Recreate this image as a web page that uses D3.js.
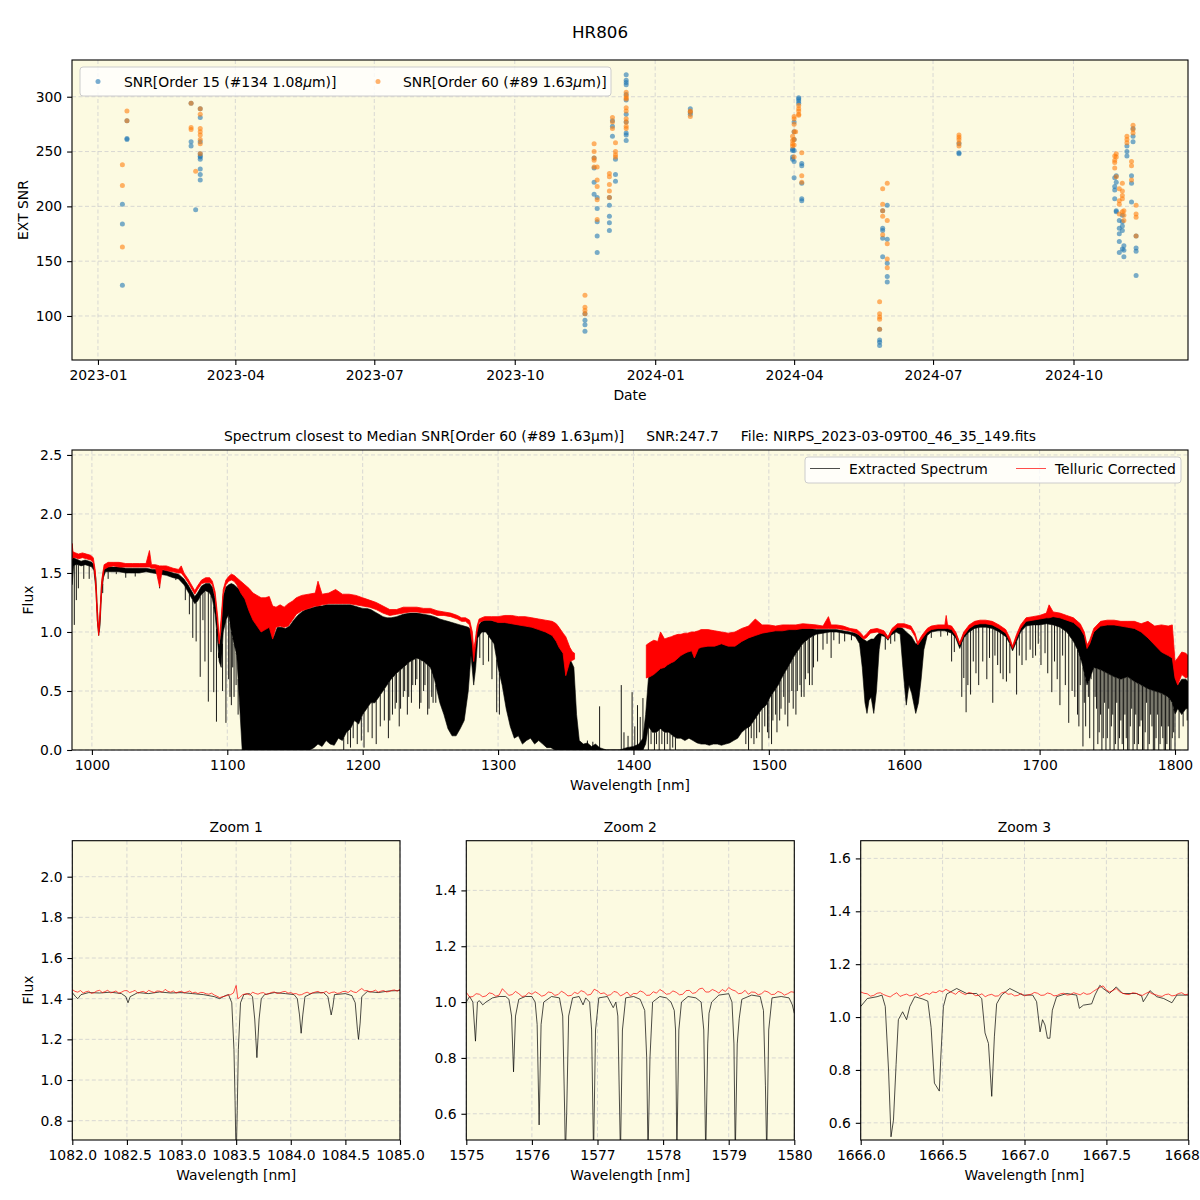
<!DOCTYPE html>
<html><head><meta charset="utf-8">
<script src="https://cdn.jsdelivr.net/npm/d3@7"></script>
<style>body{margin:0;background:#fff}</style>
</head><body><svg id="chart" width="1200" height="1200" xmlns="http://www.w3.org/2000/svg"></svg>
<script>
// ---------------- DATA ----------------
const chartTitle = "HR806";
const dateTicks = ["2023-01-01","2023-04-01","2023-07-01","2023-10-01","2024-01-01","2024-04-01","2024-07-01","2024-10-01"];
const snrTicks = [100,150,200,250,300];
// SNR observations grouped by night: [date, [snr values]]
const order15Snr = [
 ["2023-01-17",[202,184,128]],["2023-01-20",[278,262,261]],
 ["2023-03-03",[294,259,255]],["2023-03-06",[197]],["2023-03-09",[289,281,259,248,246,245,243,234,229,224]],
 ["2023-11-16",[102,96,92,86]],["2023-11-22",[244,235,222,211]],["2023-11-24",[208,198,186,173,158]],
 ["2023-12-02",[208,201,191,185,178]],["2023-12-04",[278,273,264]],["2023-12-06",[243,229,223]],
 ["2023-12-13",[320,315,313,311,302,297,284,277,267,265,260]],["2024-01-24",[289,286,284]],
 ["2024-03-31",[252,251,245,243]],["2024-04-01",[277,268,261,251,241,226]],["2024-04-04",[299,298,296,294]],
 ["2024-04-06",[239,237,221,207,205]],["2024-05-27",[88,78,76,73]],["2024-05-29",[196,180,178,171,154]],
 ["2024-06-01",[201,170,148,136,131]],["2024-07-18",[257,249,248]],["2024-10-28",[226,218,215,207]],
 ["2024-10-29",[228,222,196,195]],["2024-10-31",[187,180,175,168,158]],["2024-11-02",[192,186,182,178,161]],
 ["2024-11-03",[164,160,154]],["2024-11-05",[255,250,246]],["2024-11-08",[228,221,204]],
 ["2024-11-09",[271,264,259]],["2024-11-11",[173,162,159,137]]
];
const order60Snr = [
 ["2023-01-17",[238,219,163]],["2023-01-20",[287,278]],
 ["2023-03-03",[294,272,270]],["2023-03-06",[232]],["2023-03-09",[289,284,271,268,265,261,257,248]],
 ["2023-11-16",[119,108,105,102]],["2023-11-22",[257,250,244,242,236]],["2023-11-24",[236,224,218,206,188]],
 ["2023-12-02",[230,227,220,214,208]],["2023-12-04",[281,277,271]],["2023-12-06",[258,250,247,245]],
 ["2023-12-13",[304,301,299,298,290,287,280,277,273,271]],["2024-01-24",[287,286,282]],
 ["2024-03-31",[264,260,257,255]],["2024-04-01",[282,280,275,268,261,256,245]],["2024-04-02",[268]],
 ["2024-04-04",[292,289,287,284,283]],["2024-04-06",[249,228,222]],["2024-05-27",[113,102,99,97,88]],
 ["2024-05-29",[216,202,196,191,174]],["2024-06-01",[221,187,166,152,144]],["2024-07-18",[265,263,261,258,255]],
 ["2024-10-28",[246,242,240,235]],["2024-10-29",[248,245,227]],["2024-10-31",[216,205,202,193]],
 ["2024-11-02",[221,214,210,207,195]],["2024-11-03",[196,192,187]],["2024-11-05",[264,261,258]],
 ["2024-11-08",[241,237,224]],["2024-11-09",[274,270,267]],["2024-11-11",[201,193,190,173]]
];
const seriesLabels = ["SNR[Order 15 (#134 1.08", "SNR[Order 60 (#89 1.63"];
const spectrumTitle = "Spectrum closest to Median SNR[Order 60 (#89 1.63\u03bcm)]     SNR:247.7     File: NIRPS_2023-03-09T00_46_35_149.fits";
const wavelengthTicks = [1000,1100,1200,1300,1400,1500,1600,1700,1800];
const fluxTicks = [0,0.5,1.0,1.5,2.0,2.5];
// Extracted spectrum: [wavelength nm, upper flux, lower flux of the dense line forest]
const extractedBand = [
 [985.4,1.66,1.40],[986.5,1.63,1.56],[988,1.62,1.57],[990,1.61,1.57],[992,1.60,1.56],[995,1.61,1.57],[998,1.60,1.56],
 [1000,1.59,1.55],[1001.5,1.57,1.52],[1003,1.45,1.35],[1004,1.20,1.10],[1005,1.00,0.97],[1006,1.15,1.05],[1007,1.40,1.30],
 [1008.5,1.52,1.46],[1010,1.55,1.51],[1015,1.55,1.51],[1020,1.55,1.51],[1025,1.54,1.50],[1030,1.54,1.50],[1035,1.54,1.50],
 [1040,1.54,1.51],[1045,1.53,1.50],[1050,1.53,1.49],[1055,1.52,1.48],[1060,1.50,1.46],[1064,1.49,1.45],[1068,1.45,1.40],
 [1071,1.40,1.34],[1074,1.34,1.28],[1076,1.30,1.24],[1078,1.33,1.26],[1081,1.39,1.32],[1084,1.41,1.35],[1087,1.41,1.33],
 [1089,1.38,1.28],[1091,1.28,1.15],[1093,1.05,0.90],[1094,0.88,0.75],[1095.5,1.00,0.70],[1097,1.30,1.00],[1099,1.38,1.10],
 [1101,1.40,1.15],[1103,1.41,1.00],[1105,1.40,0.90],[1107,1.38,0.80],[1109,1.36,0.40],[1111,1.34,0.00],[1114,1.30,0.00],
 [1117,1.22,0.00],[1120,1.12,0.00],[1123,1.06,0.00],[1126,1.02,0.00],[1129,1.04,0.00],[1132,1.05,0.00],[1134,0.95,0.00],
 [1137,1.04,0.00],[1140,1.04,0.00],[1143,1.03,0.00],[1146,1.05,0.00],[1149,1.10,0.00],[1152,1.14,0.00],[1155,1.17,0.00],
 [1158,1.19,0.00],[1161,1.20,0.00],[1164,1.21,0.02],[1167,1.22,0.05],[1170,1.22,0.03],[1173,1.23,0.08],[1176,1.23,0.05],
 [1179,1.23,0.04],[1182,1.23,0.10],[1185,1.23,0.08],[1188,1.23,0.15],[1191,1.23,0.18],[1194,1.22,0.25],[1197,1.21,0.22],
 [1200,1.20,0.30],[1203,1.20,0.35],[1206,1.19,0.40],[1209,1.17,0.40],[1212,1.15,0.45],[1215,1.13,0.50],[1218,1.12,0.55],
 [1221,1.12,0.60],[1225,1.13,0.65],[1230,1.15,0.70],[1235,1.16,0.75],[1240,1.16,0.78],[1245,1.15,0.75],[1250,1.14,0.70],
 [1253,1.13,0.60],[1255,1.12,0.50],[1257,1.11,0.40],[1260,1.10,0.30],[1263,1.09,0.18],[1266,1.08,0.12],[1269,1.07,0.12],
 [1272,1.06,0.18],[1275,1.05,0.25],[1278,1.04,0.50],[1280,1.02,0.80],[1282,0.80,0.55],[1283.5,0.90,0.70],[1285,1.05,0.95],
 [1288,1.09,1.00],[1291,1.10,1.00],[1294,1.10,0.95],[1297,1.09,0.90],[1300,1.09,0.70],[1303,1.09,0.55],[1306,1.08,0.35],
 [1309,1.08,0.20],[1312,1.07,0.10],[1315,1.07,0.12],[1318,1.06,0.05],[1321,1.06,0.08],[1324,1.05,0.10],[1327,1.05,0.05],
 [1330,1.04,0.08],[1333,1.03,0.05],[1336,1.02,0.02],[1339,1.00,0.02],[1342,0.97,0.00],[1345,0.90,0.00],[1348,0.85,0.00],
 [1351,0.80,0.00],[1354,0.75,0.00],[1356,0.70,0.00],[1358,0.30,0.00],[1360,0.08,0.00],[1363,0.05,0.00],[1366,0.06,0.00],
 [1369,0.03,0.00],[1372,0.05,0.00],[1375,0.02,0.00],[1380,0.00,0.00],[1390,0.00,0.00],[1395,0.02,0.00],[1400,0.03,0.00],
 [1404,0.05,0.00],[1407,0.10,0.00],[1409,0.30,0.05],[1411,0.60,0.20],[1414,0.75,0.15],[1417,0.80,0.15],[1420,0.83,0.18],
 [1423,0.85,0.15],[1426,0.88,0.15],[1429,0.90,0.12],[1432,0.92,0.10],[1435,0.93,0.10],[1438,0.94,0.08],[1441,0.95,0.10],
 [1444,0.96,0.08],[1447,0.97,0.06],[1450,0.98,0.05],[1453,0.98,0.05],[1456,0.98,0.04],[1459,0.98,0.05],[1462,0.97,0.05],
 [1465,0.96,0.04],[1468,0.95,0.05],[1471,0.95,0.06],[1474,0.96,0.08],[1477,0.97,0.10],[1480,0.99,0.15],[1483,1.00,0.18],
 [1486,1.01,0.20],[1489,1.02,0.25],[1492,1.03,0.30],[1495,1.03,0.35],[1498,1.03,0.38],[1501,1.03,0.45],[1504,1.03,0.50],
 [1507,1.03,0.55],[1510,1.03,0.62],[1513,1.03,0.68],[1516,1.03,0.74],[1519,1.03,0.80],[1522,1.03,0.85],[1525,1.03,0.90],
 [1530,1.03,0.95],[1535,1.02,0.98],[1540,1.02,0.99],[1545,1.02,1.00],[1550,1.02,1.00],[1555,1.01,0.99],[1560,1.00,0.98],
 [1564,0.99,0.96],[1567,0.97,0.90],[1569,0.95,0.70],[1571,0.93,0.40],[1572.5,0.92,0.31],[1574,0.93,0.42],[1575.5,0.94,0.45],
 [1577.5,0.94,0.31],[1579.5,0.97,0.50],[1581.5,0.99,0.85],[1583,1.00,0.97],[1586,0.99,0.96],[1588,0.95,0.93],[1590,1.00,0.97],
 [1594,1.04,1.00],[1597,1.04,0.98],[1599,1.03,0.70],[1601.5,1.00,0.38],[1603.5,0.98,0.55],[1605.5,0.96,0.48],[1608.5,0.90,0.31],
 [1610.5,0.90,0.40],[1612.5,0.95,0.60],[1614.5,0.98,0.85],[1617,1.00,0.97],[1620,1.03,1.00],[1625,1.04,1.01],[1630,1.04,1.01],
 [1635,1.03,0.99],[1638,0.99,0.95],[1641,0.90,0.86],[1644,0.99,0.95],[1648,1.04,1.00],[1652,1.07,1.03],[1656,1.08,1.04],
 [1660,1.08,1.04],[1665,1.07,1.03],[1670,1.04,1.00],[1675,1.00,0.96],[1678,0.93,0.90],[1680,0.87,0.84],[1683,0.96,0.92],
 [1686,1.04,1.00],[1690,1.10,1.05],[1695,1.11,1.06],[1700,1.12,1.06],[1705,1.14,1.07],[1710,1.14,1.06],[1715,1.13,1.04],
 [1720,1.11,1.00],[1725,1.09,0.92],[1728,1.07,0.85],[1731,1.03,0.75],[1733,0.97,0.65],[1735,0.87,0.55],[1737,0.90,0.60],
 [1740,1.00,0.70],[1745,1.06,0.68],[1750,1.07,0.65],[1755,1.07,0.62],[1760,1.06,0.60],[1765,1.05,0.62],[1770,1.04,0.58],
 [1775,1.02,0.55],[1780,1.00,0.52],[1785,0.96,0.50],[1790,0.94,0.48],[1795,0.90,0.45],[1798,0.85,0.40],[1800,0.62,0.30],
 [1802,0.55,0.35],[1805,0.60,0.30],[1808,0.60,0.35],[1809.6,0.58,0.35]
];
// Individual deep telluric lines / spikes of the extracted spectrum: [wavelength nm, flux reached]
const extractedLines = [
 [987,1.06],[988.5,1.27],[990,1.37],[994,1.45],[998,1.45],[1008,1.33],[1012,1.45],[1018,1.49],[1025,1.46],[1032,1.47],
 [1050,1.37],[1062,1.44],[1069,1.27],[1072,1.15],[1074.5,0.95],[1077,0.92],[1080,0.62],[1082,1.10],[1083.5,0.75],[1086,0.41],
 [1088,0.83],[1090,0.49],[1092,0.24],[1093.5,0.78],[1096.5,0.50],[1099,0.23],[1101,0.60],[1102,0.45],[1103,0.38],[1104,0.70],
 [1105,0.45],[1106.5,0.55],[1108,0.30],
 [1186,0.00],[1189,0.05],[1191,0.02],[1193,0.10],[1196,0.05],[1199,0.08],[1201,0.02],[1204,0.15],[1207,0.10],[1210,0.05],
 [1213,0.20],[1216,0.25],[1219,0.10],[1220,0.25],[1222,0.30],[1224,0.35],[1225,0.40],[1227,0.20],[1228,0.35],[1230,0.45],
 [1231,0.50],[1233,0.30],[1234,0.45],[1236,0.40],[1237,0.55],[1239,0.55],[1240,0.60],[1242,0.35],[1243,0.40],[1245,0.50],
 [1246,0.55],[1248,0.30],[1249,0.35],[1251,0.45],[1252,0.40],[1254,0.40],
 [1286.5,0.78],[1289,0.72],[1293,0.75],[1295.5,0.60],[1299,0.32],[1301,0.30],
 [1366,0.08],[1370,0.07],[1375,0.37],[1391,0.55],[1393,0.15],[1396,0.12],[1399,0.49],[1401,0.20],[1403,0.38],[1405,0.28],[1407,0.44],
 [1411,0.00],[1413,0.05],[1415.5,0.00],[1417,0.05],[1419,0.00],[1421,0.05],[1423,0.00],[1425,0.05],[1427,0.00],[1429,0.02],
 [1431,0.00],[1483,0.05],[1485,0.00],[1487,0.10],[1489,0.05],[1491,0.10],[1493,0.15],[1495,0.00],[1497,0.20],[1499,0.15],
 [1500,0.10],[1502,0.05],[1503,0.25],[1505,0.30],[1506,0.15],[1508,0.25],[1509,0.35],[1511,0.45],[1512,0.30],[1514,0.20],
 [1515,0.40],[1517,0.50],[1518,0.35],[1520,0.30],[1521,0.50],[1523,0.55],[1524,0.45],[1526,0.45],[1527,0.60],[1529,0.65],
 [1530,0.55],[1532,0.55],[1533,0.70],[1536,0.75],[1540,0.85],[1543,0.90],[1546,0.78],
 [1548,0.93],[1552,0.90],[1556,0.92],[1561,0.93],[1586,0.85],[1590,0.90],[1593,0.92],[1620,0.95],[1627,0.96],[1632,0.97],
 [1635,0.75],[1637,0.83],
 [1642.5,0.45],[1644,0.61],[1645.7,0.32],[1647,0.55],[1649,0.47],[1651,0.75],[1653,0.65],[1655,0.55],[1658,0.75],[1661,0.60],
 [1663,0.78],[1665.4,0.40],[1667,0.80],[1669,0.72],[1671,0.65],[1673,0.60],[1675.5,0.58],[1678,0.65],[1683,0.47],[1685,0.80],
 [1687,0.72],[1690,0.76],[1693,0.85],[1695,0.78],[1697,0.80],[1699,0.90],
 [1701,0.72],[1704,0.82],[1706,0.65],[1709,0.49],[1711,0.75],[1713,0.60],[1715,0.38],[1717,0.80],[1719,0.55],[1721.5,0.23],
 [1724,0.50],[1726,0.45],[1728,0.30],[1729,0.20],[1730,0.55],[1732,0.03],[1733,0.40],[1734,0.20],[1736,0.45],[1737,0.10],
 [1738,0.60],[1740,0.00],[1741,0.45],[1742,0.35],[1743,0.05],[1744,0.15],[1745,0.30],[1746,0.00],[1747,0.10],[1748,0.40],
 [1749,0.00],[1750,0.10],[1751,0.35],[1752,0.00],[1753,0.20],[1754,0.30],[1755,0.00],[1756,0.05],[1757,0.40],[1758,0.00],
 [1759,0.10],[1760,0.25],[1761,0.05],[1762,0.00],[1763,0.30],[1764,0.10],[1765,0.00],[1766,0.00],[1767,0.20],[1768,0.35],
 [1769,0.00],[1770,0.05],[1771,0.30],[1772,0.00],[1773,0.05],[1774,0.20],[1775,0.25],[1776,0.00],[1777,0.00],[1778,0.15],
 [1779,0.40],[1780,0.00],[1781,0.05],[1782,0.30],[1783,0.20],[1784,0.00],[1785,0.00],[1786,0.10],[1787,0.30],[1788,0.00],
 [1789,0.05],[1790,0.20],[1791,0.10],[1792,0.00],[1793,0.00],[1794,0.05],[1795,0.20],[1796,0.00],[1797,0.00],[1798,0.10],
 [1799,0.15],[1800,0.00],[1803,0.10],[1806,0.20],[1809,0.25]
];
// Telluric corrected spectrum: [wavelength nm, upper flux, lower flux]; null marks the masked gap
const correctedBand = [
 [985.4,1.75,1.62],[986,1.68,1.63],[988,1.67,1.63],[990,1.66,1.62],[993,1.67,1.63],[996,1.66,1.62],[999,1.65,1.61],[1001,1.63,1.59],
 [1002.5,1.52,1.45],[1004,1.20,1.10],[1005,1.00,0.97],[1006,1.18,1.10],[1007.4,1.45,1.38],[1009,1.57,1.53],[1012,1.59,1.55],
 [1016,1.59,1.56],[1020,1.59,1.55],[1025,1.58,1.55],[1030,1.58,1.55],[1035,1.58,1.55],[1040,1.58,1.55],[1042.5,1.69,1.55],
 [1044,1.57,1.54],[1047,1.57,1.54],[1050,1.56,1.38],[1052,1.56,1.53],[1055,1.56,1.52],[1060,1.54,1.51],[1064,1.53,1.50],
 [1066,1.56,1.50],[1068,1.50,1.47],[1071,1.45,1.42],[1074,1.39,1.36],[1076,1.35,1.32],[1078,1.39,1.36],[1081,1.44,1.41],
 [1084,1.46,1.42],[1087,1.46,1.42],[1089,1.43,1.40],[1091,1.34,1.30],[1093,1.12,1.05],[1094,0.93,0.90],[1095.5,1.12,1.05],
 [1097,1.36,1.32],[1099,1.44,1.40],[1101,1.47,1.43],[1103,1.49,1.44],[1105,1.48,1.43],[1107,1.46,1.40],[1110,1.43,1.33],
 [1113,1.40,1.28],[1116,1.37,1.18],[1119,1.33,1.10],[1122,1.31,1.05],[1125,1.29,1.00],[1128,1.29,1.02],[1131,1.30,1.04],
 [1133.5,1.22,0.94],[1136,1.21,1.04],[1139,1.23,1.05],[1142,1.21,1.04],[1145,1.24,1.05],[1148,1.26,1.10],[1151,1.29,1.15],
 [1155,1.31,1.18],[1160,1.32,1.20],[1165,1.33,1.22],[1167,1.43,1.22],[1170,1.32,1.23],[1175,1.33,1.24],[1180,1.36,1.24],
 [1185,1.32,1.24],[1190,1.32,1.24],[1195,1.31,1.23],[1200,1.29,1.22],[1205,1.27,1.21],[1210,1.25,1.19],[1215,1.22,1.16],
 [1220,1.19,1.14],[1225,1.19,1.15],[1230,1.21,1.16],[1235,1.21,1.17],[1240,1.21,1.17],[1245,1.20,1.16],[1250,1.20,1.16],
 [1255,1.18,1.14],[1260,1.17,1.14],[1265,1.16,1.13],[1270,1.14,1.11],[1273,1.12,1.09],[1276,1.12,1.09],[1279,1.10,1.06],
 [1281,1.00,0.90],[1282,0.85,0.75],[1283,0.92,0.85],[1284.5,1.05,1.00],[1286,1.11,1.08],[1290,1.13,1.10],[1295,1.13,1.10],
 [1300,1.13,1.08],[1305,1.14,1.08],[1310,1.14,1.07],[1315,1.13,1.06],[1320,1.13,1.05],[1325,1.12,1.04],[1330,1.11,1.02],
 [1335,1.10,1.00],[1340,1.09,0.97],[1343,1.07,0.92],[1345,1.04,0.87],[1348,0.99,0.82],[1350,0.96,0.63],[1353,0.87,0.75],
 [1355,0.83,0.76],[1356.5,0.82,0.77],[1380,null,null],
 [1409.5,0.89,0.61],[1412,0.91,0.62],[1415,0.93,0.64],[1418,0.92,0.67],[1420,1.00,0.69],[1423,0.94,0.70],[1425,0.95,0.72],
 [1428,0.96,0.74],[1430,0.97,0.75],[1433,0.98,0.78],[1435,0.98,0.80],[1438,0.99,0.82],[1440,0.99,0.83],[1443,1.00,0.84],
 [1445,1.00,0.78],[1448,1.01,0.86],[1450,1.02,0.87],[1455,1.02,0.88],[1460,1.01,0.88],[1465,1.00,0.90],[1470,0.99,0.88],
 [1475,1.00,0.88],[1480,1.03,0.92],[1485,1.05,0.95],[1490,1.11,0.97],[1495,1.06,0.99],[1500,1.06,1.00],[1505,1.05,1.01],
 [1510,1.06,1.01],[1515,1.06,1.02],[1520,1.06,1.02],[1525,1.07,1.03],[1530,1.065,1.03],[1535,1.06,1.03],[1540,1.05,1.03],
 [1544,1.13,1.03],[1546,1.06,1.03],[1550,1.06,1.03],[1555,1.05,1.02],[1560,1.03,1.01],[1565,1.02,0.99],[1568,0.99,0.96],
 [1570,0.96,0.94],[1572,0.98,0.95],[1575,1.02,0.99],[1580,1.03,1.00],[1585,1.01,0.98],[1588,0.96,0.94],[1591,1.03,1.00],
 [1595,1.07,1.04],[1600,1.07,1.04],[1605,1.05,1.02],[1608,0.99,0.96],[1610,0.91,0.89],[1613,0.97,0.94],[1617,1.03,1.00],
 [1620,1.05,1.02],[1625,1.06,1.03],[1630,1.06,1.03],[1631,1.14,1.03],[1632,1.06,1.03],[1635,1.05,1.02],[1638,1.00,0.97],
 [1641,0.91,0.89],[1644,1.00,0.97],[1648,1.06,1.03],[1652,1.09,1.06],[1656,1.10,1.07],[1660,1.10,1.07],[1665,1.09,1.06],
 [1670,1.06,1.03],[1675,1.02,0.99],[1678,0.95,0.92],[1680,0.88,0.86],[1683,0.98,0.95],[1686,1.06,1.03],[1690,1.12,1.09],
 [1695,1.13,1.10],[1700,1.14,1.11],[1705,1.16,1.12],[1707,1.23,1.12],[1710,1.17,1.13],[1715,1.16,1.12],[1720,1.14,1.10],
 [1725,1.12,1.08],[1730,1.07,1.03],[1733,1.00,0.97],[1735,0.89,0.86],[1737,0.93,0.90],[1740,1.03,1.00],[1745,1.09,1.05],
 [1750,1.10,1.06],[1755,1.10,1.06],[1760,1.09,1.05],[1765,1.09,1.04],[1770,1.09,1.03],[1775,1.07,1.00],[1780,1.09,0.95],
 [1785,1.05,0.89],[1790,1.06,0.83],[1795,1.05,0.80],[1798,1.06,0.78],[1800,0.75,0.61],[1802,0.78,0.55],[1805,0.83,0.64],
 [1808,0.82,0.61],[1809.6,0.80,0.62]
];
// Zoom panels: [wavelength nm, flux]
const zoom1Extracted = [
 [1082.00,1.430],[1082.03,1.410],[1082.05,1.400],[1082.08,1.420],[1082.15,1.430],[1082.25,1.428],[1082.35,1.432],[1082.45,1.425],
 [1082.49,1.410],[1082.51,1.380],[1082.53,1.410],[1082.60,1.430],[1082.70,1.425],[1082.80,1.433],[1082.90,1.428],[1083.00,1.430],
 [1083.10,1.425],[1083.20,1.420],[1083.30,1.410],[1083.35,1.400],[1083.40,1.415],[1083.43,1.420],[1083.46,1.380],[1083.48,1.150],
 [1083.49,0.900],[1083.50,0.600],[1083.51,0.850],[1083.52,1.150],[1083.54,1.380],[1083.57,1.420],[1083.62,1.425],[1083.65,1.410],
 [1083.67,1.300],[1083.69,1.110],[1083.71,1.300],[1083.73,1.400],[1083.76,1.420],[1083.85,1.430],[1083.95,1.425],[1084.03,1.420],
 [1084.06,1.400],[1084.08,1.320],[1084.095,1.230],[1084.11,1.320],[1084.13,1.410],[1084.20,1.428],[1084.30,1.430],[1084.34,1.410],
 [1084.36,1.350],[1084.37,1.320],[1084.385,1.360],[1084.40,1.420],[1084.50,1.425],[1084.56,1.415],[1084.59,1.380],[1084.61,1.250],
 [1084.62,1.200],[1084.635,1.280],[1084.65,1.410],[1084.70,1.435],[1084.80,1.430],[1084.90,1.438],[1085.00,1.440]
];
const zoom1Corrected = [
 [1082.00,1.445],[1082.025,1.436],[1082.05,1.432],[1082.075,1.440],[1082.10,1.428],[1082.125,1.434],[1082.15,1.437],[1082.175,1.426],
 [1082.20,1.430],[1082.225,1.438],[1082.25,1.441],[1082.275,1.430],[1082.30,1.435],[1082.325,1.442],[1082.35,1.428],[1082.375,1.433],
 [1082.40,1.438],[1082.425,1.427],[1082.45,1.432],[1082.475,1.439],[1082.50,1.440],[1082.525,1.430],[1082.55,1.435],[1082.575,1.441],
 [1082.60,1.427],[1082.625,1.433],[1082.65,1.436],[1082.675,1.429],[1082.70,1.441],[1082.725,1.435],[1082.75,1.430],[1082.775,1.438],
 [1082.80,1.437],[1082.825,1.432],[1082.85,1.446],[1082.875,1.436],[1082.90,1.432],[1082.925,1.438],[1082.95,1.428],[1082.975,1.434],
 [1083.00,1.436],[1083.025,1.429],[1083.05,1.433],[1083.075,1.438],[1083.10,1.428],[1083.125,1.432],[1083.15,1.425],[1083.175,1.431],
 [1083.20,1.430],[1083.225,1.424],[1083.25,1.422],[1083.275,1.427],[1083.30,1.418],[1083.325,1.412],[1083.35,1.405],[1083.375,1.410],
 [1083.40,1.412],[1083.425,1.418],[1083.45,1.420],[1083.475,1.428],[1083.50,1.465],[1083.515,1.400],[1083.53,1.405],[1083.56,1.420],
 [1083.60,1.425],[1083.625,1.418],[1083.65,1.432],[1083.675,1.426],[1083.70,1.422],[1083.725,1.428],[1083.75,1.430],[1083.775,1.421],
 [1083.80,1.425],[1083.825,1.431],[1083.85,1.433],[1083.875,1.426],[1083.90,1.428],[1083.925,1.434],[1083.95,1.436],[1083.975,1.427],
 [1084.00,1.430],[1084.025,1.424],[1084.05,1.425],[1084.075,1.418],[1084.10,1.420],[1084.125,1.427],[1084.15,1.432],[1084.175,1.425],
 [1084.20,1.428],[1084.225,1.433],[1084.25,1.436],[1084.275,1.428],[1084.30,1.430],[1084.325,1.436],[1084.35,1.425],[1084.375,1.431],
 [1084.40,1.433],[1084.425,1.426],[1084.45,1.428],[1084.475,1.435],[1084.50,1.436],[1084.525,1.430],[1084.55,1.440],[1084.575,1.433],
 [1084.60,1.430],[1084.625,1.441],[1084.65,1.450],[1084.675,1.439],[1084.70,1.440],[1084.725,1.433],[1084.75,1.436],[1084.775,1.442],
 [1084.80,1.432],[1084.825,1.437],[1084.85,1.440],[1084.875,1.433],[1084.90,1.435],[1084.925,1.441],[1084.95,1.443],[1084.975,1.437],
 [1085.00,1.447]
];
const zoom2Extracted = [
 [1575.00,1.000],[1575.05,1.020],[1575.10,1.000],[1575.14,0.860],[1575.17,1.000],[1575.20,1.005],[1575.25,0.990],[1575.30,1.000],
 [1575.40,1.015],[1575.50,1.020],[1575.60,1.020],[1575.65,1.010],[1575.69,0.950],[1575.72,0.750],[1575.75,0.950],[1575.80,1.010],
 [1575.90,1.020],[1576.00,1.020],[1576.05,1.000],[1576.08,0.920],[1576.11,0.560],[1576.14,0.920],[1576.18,1.000],[1576.30,1.020],
 [1576.42,1.015],[1576.47,0.950],[1576.50,0.600],[1576.51,0.450],[1576.53,0.600],[1576.56,0.950],[1576.62,1.015],[1576.72,1.020],
 [1576.78,0.990],[1576.82,1.015],[1576.88,1.000],[1576.91,0.900],[1576.94,0.450],[1576.97,0.900],[1577.02,1.015],[1577.15,1.020],
 [1577.24,0.980],[1577.28,1.000],[1577.31,0.950],[1577.35,0.450],[1577.38,0.900],[1577.43,1.015],[1577.55,1.020],[1577.65,1.010],
 [1577.72,0.970],[1577.75,0.800],[1577.77,0.450],[1577.80,0.800],[1577.84,1.000],[1577.95,1.020],[1578.05,1.015],[1578.12,1.000],
 [1578.17,0.970],[1578.19,0.900],[1578.21,0.450],[1578.24,0.900],[1578.28,1.000],[1578.38,1.020],[1578.50,1.015],[1578.58,1.000],
 [1578.62,0.900],[1578.65,0.450],[1578.68,0.850],[1578.70,0.960],[1578.74,1.000],[1578.85,1.025],[1579.00,1.030],[1579.05,1.000],
 [1579.08,0.850],[1579.10,0.450],[1579.13,0.850],[1579.16,0.940],[1579.20,1.010],[1579.35,1.025],[1579.48,1.020],[1579.53,0.970],
 [1579.56,0.700],[1579.58,0.450],[1579.61,0.900],[1579.66,1.015],[1579.80,1.020],[1579.92,1.015],[1579.97,0.990],[1580.00,0.960]
];
const zoom2Corrected = [
 [1575.00,1.035],[1575.05,1.018],[1575.10,1.020],[1575.15,1.030],[1575.20,1.028],[1575.25,1.019],[1575.30,1.022],[1575.35,1.033],
 [1575.40,1.030],[1575.45,1.021],[1575.50,1.025],[1575.55,1.048],[1575.60,1.035],[1575.65,1.024],[1575.70,1.027],[1575.75,1.038],
 [1575.80,1.030],[1575.85,1.020],[1575.90,1.022],[1575.95,1.034],[1576.00,1.028],[1576.05,1.037],[1576.10,1.030],[1576.15,1.021],
 [1576.20,1.025],[1576.25,1.036],[1576.30,1.034],[1576.35,1.024],[1576.40,1.027],[1576.45,1.039],[1576.50,1.032],[1576.55,1.022],
 [1576.60,1.024],[1576.65,1.035],[1576.70,1.030],[1576.75,1.041],[1576.80,1.036],[1576.85,1.025],[1576.90,1.028],[1576.95,1.046],
 [1577.00,1.040],[1577.05,1.030],[1577.10,1.033],[1577.15,1.024],[1577.20,1.026],[1577.25,1.038],[1577.30,1.035],[1577.35,1.022],
 [1577.40,1.028],[1577.45,1.036],[1577.50,1.022],[1577.55,1.031],[1577.60,1.030],[1577.65,1.040],[1577.70,1.035],[1577.75,1.024],
 [1577.80,1.025],[1577.85,1.037],[1577.90,1.032],[1577.95,1.045],[1578.00,1.038],[1578.05,1.028],[1578.10,1.030],[1578.15,1.040],
 [1578.20,1.035],[1578.25,1.026],[1578.30,1.028],[1578.35,1.041],[1578.40,1.042],[1578.45,1.031],[1578.50,1.034],[1578.55,1.047],
 [1578.60,1.050],[1578.65,1.036],[1578.70,1.036],[1578.75,1.045],[1578.80,1.040],[1578.85,1.032],[1578.90,1.045],[1578.95,1.038],
 [1579.00,1.052],[1579.05,1.044],[1579.10,1.040],[1579.15,1.030],[1579.20,1.032],[1579.25,1.042],[1579.30,1.028],[1579.35,1.036],
 [1579.40,1.035],[1579.45,1.026],[1579.50,1.030],[1579.55,1.040],[1579.60,1.036],[1579.65,1.027],[1579.70,1.028],[1579.75,1.038],
 [1579.80,1.034],[1579.85,1.025],[1579.90,1.030],[1579.95,1.037],[1580.00,1.035]
];
const zoom3Extracted = [
 [1666.00,1.040],[1666.04,1.070],[1666.10,1.077],[1666.13,1.083],[1666.15,1.040],[1666.17,0.800],[1666.185,0.547],[1666.20,0.610],
 [1666.216,0.820],[1666.23,0.990],[1666.256,1.020],[1666.28,0.990],[1666.30,1.040],[1666.33,1.077],[1666.38,1.068],[1666.41,1.060],
 [1666.43,0.960],[1666.45,0.750],[1666.46,0.740],[1666.48,0.720],[1666.49,0.860],[1666.505,1.040],[1666.525,1.087],[1666.586,1.108],
 [1666.647,1.089],[1666.708,1.089],[1666.739,1.070],[1666.759,0.940],[1666.78,0.900],[1666.80,0.700],[1666.816,0.925],[1666.83,1.050],
 [1666.86,1.083],[1666.91,1.108],[1666.99,1.083],[1667.05,1.083],[1667.074,1.058],[1667.095,0.944],[1667.11,0.990],[1667.125,0.970],
 [1667.14,0.920],[1667.155,0.920],[1667.17,1.026],[1667.196,1.077],[1667.257,1.089],[1667.318,1.083],[1667.335,1.033],[1667.36,1.045],
 [1667.41,1.050],[1667.43,1.083],[1667.46,1.120],[1667.48,1.108],[1667.52,1.090],[1667.56,1.114],[1667.60,1.089],[1667.685,1.089],
 [1667.715,1.080],[1667.725,1.058],[1667.745,1.077],[1667.766,1.100],[1667.807,1.077],[1667.85,1.070],[1667.90,1.054],[1667.93,1.083],
 [1668.00,1.083]
];
const zoom3Corrected = [
 [1666.00,1.095],[1666.02,1.090],[1666.04,1.088],[1666.06,1.079],[1666.08,1.082],[1666.10,1.090],[1666.12,1.092],[1666.14,1.085],
 [1666.16,1.080],[1666.18,1.076],[1666.20,1.085],[1666.22,1.092],[1666.24,1.078],[1666.26,1.083],[1666.28,1.087],[1666.30,1.080],
 [1666.32,1.083],[1666.34,1.090],[1666.36,1.078],[1666.38,1.084],[1666.40,1.090],[1666.42,1.086],[1666.44,1.095],[1666.46,1.092],
 [1666.48,1.100],[1666.50,1.096],[1666.52,1.105],[1666.54,1.098],[1666.56,1.092],[1666.58,1.086],[1666.60,1.098],[1666.62,1.090],
 [1666.64,1.085],[1666.66,1.093],[1666.68,1.090],[1666.70,1.081],[1666.72,1.082],[1666.74,1.088],[1666.76,1.077],[1666.78,1.083],
 [1666.80,1.086],[1666.82,1.079],[1666.84,1.080],[1666.86,1.091],[1666.88,1.095],[1666.90,1.086],[1666.92,1.088],[1666.94,1.080],
 [1666.96,1.082],[1666.98,1.089],[1667.00,1.080],[1667.02,1.084],[1667.04,1.086],[1667.06,1.093],[1667.08,1.090],[1667.10,1.082],
 [1667.12,1.083],[1667.14,1.091],[1667.16,1.088],[1667.18,1.080],[1667.20,1.082],[1667.22,1.088],[1667.24,1.090],[1667.26,1.083],
 [1667.28,1.085],[1667.30,1.092],[1667.32,1.088],[1667.34,1.084],[1667.36,1.092],[1667.38,1.086],[1667.40,1.088],[1667.42,1.097],
 [1667.44,1.105],[1667.46,1.112],[1667.48,1.118],[1667.50,1.102],[1667.52,1.095],[1667.54,1.100],[1667.56,1.108],[1667.58,1.096],
 [1667.60,1.090],[1667.62,1.086],[1667.64,1.085],[1667.66,1.092],[1667.68,1.090],[1667.70,1.084],[1667.72,1.082],[1667.74,1.089],
 [1667.76,1.095],[1667.78,1.088],[1667.80,1.085],[1667.82,1.080],[1667.84,1.078],[1667.86,1.085],[1667.88,1.087],[1667.90,1.080],
 [1667.92,1.082],[1667.94,1.089],[1667.96,1.092],[1667.98,1.084],[1668.00,1.087]
];
const zoomTitles = ["Zoom 1","Zoom 2","Zoom 3"];
const zoom1Ticks = [1082.0,1082.5,1083.0,1083.5,1084.0,1084.5,1085.0];
const zoom2Ticks = [1575,1576,1577,1578,1579,1580];
const zoom3Ticks = [1666.0,1666.5,1667.0,1667.5,1668.0];
const zoom1FluxTicks = [0.8,1.0,1.2,1.4,1.6,1.8,2.0];
const zoom2FluxTicks = [0.6,0.8,1.0,1.2,1.4];
const zoom3FluxTicks = [0.6,0.8,1.0,1.2,1.4,1.6];

// ---------------- DRAWING ----------------
const BG = "#fcfae1";
const FONT = "'DejaVu Sans', sans-serif";
const FS = 13.9;
const BLUE = "#1f77b4", ORANGE = "#ff7f0e";
const svg = d3.select("#chart").attr("font-family", FONT);
const defs = svg.append("defs");
svg.append("rect").attr("width",1200).attr("height",1200).attr("fill","#fff");

function makePanel(id, box, x, y, xt, xf, yt, yf) {
  const g = svg.append("g");
  g.append("rect").attr("x",box.l).attr("y",box.t).attr("width",box.r-box.l).attr("height",box.b-box.t).attr("fill",BG);
  const grid = g.append("g").attr("stroke","#cfcfcf").attr("stroke-width",0.8).attr("stroke-dasharray","4,2.5");
  grid.selectAll("line.v").data(xt).join("line").attr("class","v")
    .attr("x1",d=>x(d)).attr("x2",d=>x(d)).attr("y1",box.t).attr("y2",box.b);
  grid.selectAll("line.h").data(yt).join("line").attr("class","h")
    .attr("y1",d=>y(d)).attr("y2",d=>y(d)).attr("x1",box.l).attr("x2",box.r);
  defs.append("clipPath").attr("id",id).append("rect")
    .attr("x",box.l).attr("y",box.t).attr("width",box.r-box.l).attr("height",box.b-box.t);
  const data = g.append("g").attr("clip-path",`url(#${id})`);
  const finish = () => {
    const top = svg.append("g");
    top.append("rect").attr("x",box.l).attr("y",box.t).attr("width",box.r-box.l).attr("height",box.b-box.t)
      .attr("fill","none").attr("stroke","#000").attr("stroke-width",1.1);
    const ax = top.append("g").attr("transform",`translate(0,${box.b})`)
      .call(d3.axisBottom(x).tickValues(xt).tickFormat(xf).tickSize(4.9).tickPadding(5.5).tickSizeOuter(0));
    const ay = top.append("g").attr("transform",`translate(${box.l},0)`)
      .call(d3.axisLeft(y).tickValues(yt).tickFormat(yf).tickSize(4.9).tickPadding(4.9).tickSizeOuter(0));
    [ax,ay].forEach(a => {
      a.attr("font-family",FONT).attr("font-size",FS);
      a.select(".domain").remove();
      a.selectAll(".tick line").attr("stroke","#000").attr("stroke-width",1.1);
      a.selectAll(".tick text").attr("fill","#000");
    });
  };
  return {g, data, finish};
}

// Title
svg.append("text").attr("x",600).attr("y",38).attr("text-anchor","middle").attr("font-size",16.7).text(chartTitle);

// ---- Top: SNR vs date ----
const parseDate = d3.utcParse("%Y-%m-%d");
const topBox = {l:72, r:1188, t:60, b:360};
const xDate = d3.scaleUtc().domain([parseDate("2022-12-15"), parseDate("2024-12-15")]).range([topBox.l, topBox.r]);
const ySnr = d3.scaleLinear().domain([59.85, 333.5]).range([topBox.b, topBox.t]);
const topPanel = makePanel("clipTop", topBox, xDate, ySnr, dateTicks.map(parseDate), d3.utcFormat("%Y-%m"), snrTicks, d3.format("d"));
function flatten(groups){ const out=[]; groups.forEach(([d,vals])=>vals.forEach(v=>out.push({date:parseDate(d), snr:v}))); return out; }
[[order15Snr, BLUE],[order60Snr, ORANGE]].forEach(([ser,col]) => {
  topPanel.data.append("g").selectAll("circle").data(flatten(ser)).join("circle")
    .attr("cx",d=>xDate(d.date)).attr("cy",d=>ySnr(d.snr)).attr("r",2.5)
    .attr("fill",col).attr("fill-opacity",0.6);
});
topPanel.finish();
{
  const lg = svg.append("g");
  lg.append("rect").attr("x",80).attr("y",67).attr("width",531).attr("height",29).attr("rx",3)
    .attr("fill","#fff").attr("fill-opacity",0.8).attr("stroke","#cccccc");
  const items = [{c:BLUE, mx:98, tx:124, label:seriesLabels[0]},{c:ORANGE, mx:378, tx:403, label:seriesLabels[1]}];
  items.forEach(it => {
    lg.append("circle").attr("cx",it.mx).attr("cy",81.5).attr("r",2.5).attr("fill",it.c).attr("fill-opacity",0.6);
    const t = lg.append("text").attr("x",it.tx).attr("y",86.5).attr("font-size",FS);
    t.append("tspan").text(it.label);
    t.append("tspan").attr("font-style","italic").text("\u03bc");
    t.append("tspan").text("m)]");
  });
}
svg.append("text").attr("transform","translate(28,210) rotate(-90)").attr("text-anchor","middle").attr("font-size",FS).text("EXT SNR");
svg.append("text").attr("x",630).attr("y",400).attr("text-anchor","middle").attr("font-size",FS).text("Date");

// ---- Middle: full spectrum ----
const midBox = {l:72, r:1188, t:450, b:750};
const xWl = d3.scaleLinear().domain([985.3, 1809.6]).range([midBox.l, midBox.r]);
const yFlux = d3.scaleLinear().domain([0, 2.542]).range([midBox.b, midBox.t]);
const midPanel = makePanel("clipMid", midBox, xWl, yFlux, wavelengthTicks, d3.format("d"), fluxTicks, d3.format(".1f"));
{
  const area = d3.area().x(d=>xWl(d[0])).y0(d=>yFlux(d[2])).y1(d=>yFlux(d[1]));
  midPanel.data.append("path").datum(extractedBand).attr("d",area)
    .attr("fill","#000").attr("stroke","#000").attr("stroke-width",0.6);
  const floorAt = d3.scaleLinear().domain(extractedBand.map(d=>d[0])).range(extractedBand.map(d=>d[2]));
  midPanel.data.append("g").selectAll("line").data(extractedLines).join("line")
    .attr("x1",d=>xWl(d[0])).attr("x2",d=>xWl(d[0]))
    .attr("y1",d=>yFlux(floorAt(d[0]))).attr("y2",d=>yFlux(d[1]))
    .attr("stroke","#000").attr("stroke-width",0.9);
  const rarea = d3.area().defined(d=>d[1]!==null).x(d=>xWl(d[0])).y0(d=>yFlux(d[2])).y1(d=>yFlux(d[1]));
  midPanel.data.append("path").datum(correctedBand).attr("d",rarea)
    .attr("fill","#ff0000").attr("stroke","#ff0000").attr("stroke-width",0.8);
}
midPanel.finish();
{
  const lg = svg.append("g");
  lg.append("rect").attr("x",805).attr("y",457).attr("width",376).attr("height",26).attr("rx",3)
    .attr("fill","#fff").attr("fill-opacity",0.8).attr("stroke","#cccccc");
  lg.append("line").attr("x1",810).attr("x2",840).attr("y1",468.5).attr("y2",468.5).attr("stroke","#000").attr("stroke-width",0.7);
  lg.append("text").attr("x",849).attr("y",473.5).attr("font-size",FS).text("Extracted Spectrum");
  lg.append("line").attr("x1",1016).attr("x2",1046).attr("y1",468.5).attr("y2",468.5).attr("stroke","#ff0000").attr("stroke-width",0.7);
  lg.append("text").attr("x",1055).attr("y",473.5).attr("font-size",FS).text("Telluric Corrected");
}
svg.append("text").attr("x",630).attr("y",441).attr("text-anchor","middle").attr("font-size",FS)
  .attr("xml:space","preserve").style("white-space","pre")
  .attr("textLength",812).attr("lengthAdjust","spacingAndGlyphs").text(spectrumTitle);
svg.append("text").attr("transform","translate(33,600) rotate(-90)").attr("text-anchor","middle").attr("font-size",FS).text("Flux");
svg.append("text").attr("x",630).attr("y",790).attr("text-anchor","middle").attr("font-size",FS).text("Wavelength [nm]");

// ---- Bottom: zoom panels ----
const zooms = [
  {box:{l:72.3,r:400,t:840.7,b:1140}, xd:[1082,1085], yd:[0.705,2.177], xt:zoom1Ticks, xf:d3.format(".1f"), yt:zoom1FluxTicks, ex:zoom1Extracted, co:zoom1Corrected},
  {box:{l:466.3,r:794.3,t:840.7,b:1140}, xd:[1575,1580], yd:[0.506,1.578], xt:zoom2Ticks, xf:d3.format("d"), yt:zoom2FluxTicks, ex:zoom2Extracted, co:zoom2Corrected},
  {box:{l:860.7,r:1188.3,t:840.7,b:1140}, xd:[1666,1668], yd:[0.535,1.667], xt:zoom3Ticks, xf:d3.format(".1f"), yt:zoom3FluxTicks, ex:zoom3Extracted, co:zoom3Corrected}
];
zooms.forEach((z,i) => {
  const x = d3.scaleLinear().domain(z.xd).range([z.box.l, z.box.r]);
  const y = d3.scaleLinear().domain(z.yd).range([z.box.b, z.box.t]);
  const p = makePanel("clipZoom"+i, z.box, x, y, z.xt, z.xf, z.yt, d3.format(".1f"));
  const line = d3.line().x(d=>x(d[0])).y(d=>y(d[1]));
  p.data.append("path").datum(z.ex).attr("d",line).attr("fill","none").attr("stroke","#000").attr("stroke-width",0.7);
  p.data.append("path").datum(z.co).attr("d",line).attr("fill","none").attr("stroke","#ff0000").attr("stroke-width",0.7);
  p.finish();
  const cx = (z.box.l+z.box.r)/2;
  svg.append("text").attr("x",cx).attr("y",832).attr("text-anchor","middle").attr("font-size",FS).text(zoomTitles[i]);
  svg.append("text").attr("x",cx).attr("y",1180).attr("text-anchor","middle").attr("font-size",FS).text("Wavelength [nm]");
});
svg.append("text").attr("transform","translate(33,990) rotate(-90)").attr("text-anchor","middle").attr("font-size",FS).text("Flux");
</script></body></html>
